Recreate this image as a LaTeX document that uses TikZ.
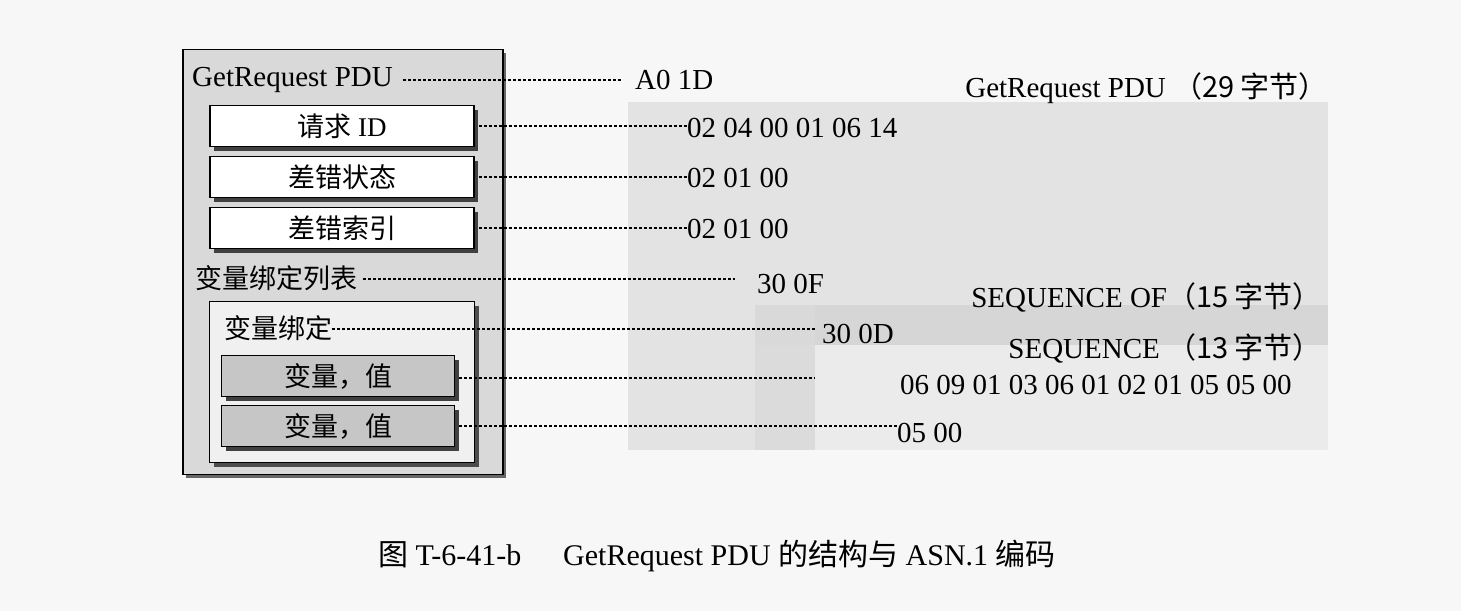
\documentclass[tikz,border=0pt]{standalone}
\usepackage{fontspec}
\setmainfont{Liberation Serif}
\newfontfamily\cjk{Noto Sans CJK SC}
\usetikzlibrary{shadows}
\begin{document}
\begin{tikzpicture}[x=1pt,y=-1pt,
  txt/.style={inner sep=0pt,anchor=west,font=\fontsize{29}{29}\selectfont},
  boxw/.style={draw=black,line width=1.2pt,fill=white,minimum width=264pt,minimum height=41pt,inner sep=0pt,font=\fontsize{27}{27}\selectfont,drop shadow={shadow xshift=4pt,shadow yshift=-4pt,fill=black!75,opacity=1}},
  boxg/.style={boxw,fill=gray!45,minimum width=233pt},
  dl/.style={line width=1.1pt,dash pattern=on 3pt off 2pt}]
\useasboundingbox (0,0) rectangle (1461,611);
\fill[gray!6] (0,0) rectangle (1461,611);
% gray code areas
\fill[gray!22] (628,102) rectangle (1328,450);
\fill[gray!30] (755,305) rectangle (1328,450);
\fill[gray!32] (815,305) rectangle (1328,345);
\fill[gray!16] (815,345) rectangle (1328,450);
\fill[gray!28] (755,345) rectangle (815,450);
% outer box
\node[draw=black,line width=1.2pt,fill=gray!30,minimum width=320pt,minimum height=425pt,inner sep=0pt,drop shadow={shadow xshift=3pt,shadow yshift=-3pt,fill=black!60,opacity=1}] (pdu) at (343,262) {};
\node[txt] (t1) at (192,80) {GetRequest PDU};
\node[boxw] (b1) at (342,126) {{\cjk 请求} ID};
\node[boxw] (b2) at (342,177) {\cjk 差错状态};
\node[boxw] (b3) at (342,228) {\cjk 差错索引};
\node[txt,font=\fontsize{27}{27}\selectfont] (t2) at (195,278) {\cjk 变量绑定列表};
\node[draw=black,line width=1.2pt,fill=gray!12,minimum width=265pt,minimum height=161pt,inner sep=0pt,drop shadow={shadow xshift=4pt,shadow yshift=-4pt,fill=black!70,opacity=1}] (vb) at (342,382) {};
\node[txt,font=\fontsize{27}{27}\selectfont] (t3) at (224,328) {\cjk 变量绑定};
\node[boxg] (v1) at (338,376) {\cjk 变量，值};
\node[boxg] (v2) at (338,426) {\cjk 变量，值};
% codes
\node[txt] (c1) at (635,80) {A0 1D};
\node[txt] (c2) at (687,128) {02 04 00 01 06 14};
\node[txt] (c3) at (687,178) {02 01 00};
\node[txt] (c4) at (687,229) {02 01 00};
\node[txt] (c5) at (757,284) {30 0F};
\node[txt] (c6) at (822,334) {30 0D};
\node[txt] (c7) at (900,385) {06 09 01 03 06 01 02 01 05 05 00};
\node[txt] (c8) at (897,433) {05 00};
% right labels
\node[txt,anchor=east] (r1) at (1328,88) {GetRequest PDU {\cjk （29 字节）}};
\node[txt,anchor=east] (r2) at (1322,297) {SEQUENCE OF{\cjk （15 字节）}};
\node[txt,anchor=east] (r3) at (1322,348) {SEQUENCE {\cjk （13 字节）}};
% connector ends
\coordinate (e1) at (622,80);
\coordinate (e5) at (735,279);
\coordinate (e6) at (815,329);
\coordinate (e7) at (815,378);
% connectors
\draw[dl] ([xshift=10pt]t1.east) -- (t1.east -| e1);
\draw[dl] ([xshift=4pt]b1.east) -- (b1.east -| c2.west);
\draw[dl] ([xshift=4pt]b2.east) -- (b2.east -| c3.west);
\draw[dl] ([xshift=4pt]b3.east) -- (b3.east -| c4.west);
\draw[dl] ([xshift=6pt]t2.east |- e5) -- (e5);
\draw[dl] (t3.east |- e6) -- (e6);
\draw[dl] ([xshift=4pt]v1.east |- e7) -- (e7);
\draw[dl] ([xshift=4pt]v2.east) -- (v2.east -| c8.west);
% caption
\node[txt,font=\fontsize{30}{30}\selectfont] (cap) at (378,556) {{\cjk 图} T-6-41-b\hspace{1.4em}GetRequest PDU {\cjk 的结构与} ASN.1 {\cjk 编码}};
\end{tikzpicture}
\end{document}
